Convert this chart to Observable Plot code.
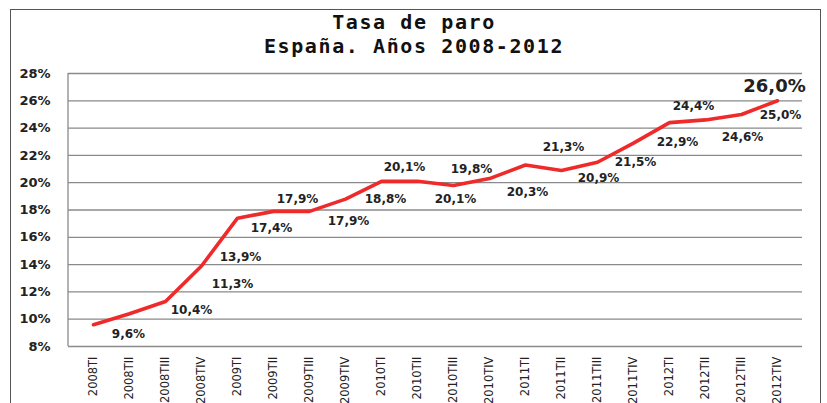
<!DOCTYPE html>
<html>
<head>
<meta charset="utf-8">
<script src="https://cdn.jsdelivr.net/npm/d3@7"></script>
<script src="https://cdn.jsdelivr.net/npm/@observablehq/plot@0.6"></script>
<style>
  html, body { margin: 0; padding: 0; background: #fff; }
  #wrap { position: relative; width: 827px; height: 403px; overflow: hidden; }
  #frame { position: absolute; left: 10px; top: 9px; width: 811px; height: 420px;
           border: 1.5px solid #555; box-sizing: border-box; }
  #title { position: absolute; left: 0; width: 828px; top: 10px; text-align: center;
           font-family: "DejaVu Sans Mono", monospace; font-weight: bold; font-size: 20px;
           letter-spacing: 1.6px; line-height: 24px; color: #111; }
  #chart { position: absolute; left: 0; top: 0; }
</style>
</head>
<body>
<div id="wrap">
  <div id="frame"></div>
  <div id="title">Tasa de paro<br>España. Años 2008-2012</div>
  <div id="chart"></div>
</div>
<script>
const quarters = ["2008TI","2008TII","2008TIII","2008TIV","2009TI","2009TII","2009TIII","2009TIV",
  "2010TI","2010TII","2010TIII","2010TIV","2011TI","2011TII","2011TIII","2011TIV",
  "2012TI","2012TII","2012TIII","2012TIV"];
const rates = [9.6,10.4,11.3,13.9,17.4,17.9,17.9,18.8,20.1,20.1,19.8,20.3,21.3,20.9,21.5,22.9,24.4,24.6,25.0,26.0];
const yTicks = [8,10,12,14,16,18,20,22,24,26,28];

// label placement offsets (px) relative to each point, as in the original
const labelOffsets = [[35,9],[62,-4],[67,-17],[39,-9],[34,10],[24,-12],[39,10],[40,0],[23,-14],[38,18],
  [18,-16],[38,14],[38,-18],[37,8],[38,0],[44,-1],[24,-16],[37,17],[39,1],[-3,-15]];

const data = quarters.map((q, i) => ({q, v: rates[i], label: rates[i].toFixed(1).replace(".", ",") + "%"}));
const last = data.length - 1;

const labelMarks = data.map((d, i) => Plot.text([d], {
  x: "q", y: "v", text: "label",
  dx: labelOffsets[i][0], dy: labelOffsets[i][1],
  fontFamily: "DejaVu Sans, Verdana, sans-serif",
  fontWeight: "bold",
  fontSize: i === last ? 18 : 12,
  fill: "#222",
  letterSpacing: i === last ? 0 : 0.6
}));

const chart = Plot.plot({
  width: 827,
  height: 403,
  marginLeft: 68,
  marginRight: 25,
  marginTop: 73,
  marginBottom: 57,
  style: {background: "transparent", overflow: "visible"},
  x: {type: "point", domain: quarters, padding: 0.5, label: null, tickSize: 0, tickRotate: -90, tickPadding: 10},
  y: {domain: [8, 28], ticks: yTicks, tickFormat: d => d + "%", label: null, tickSize: 0, tickPadding: 18},
  marks: [
    Plot.ruleY(yTicks, {stroke: "#8a8a8a", strokeWidth: 1.3}),
    Plot.line(data, {x: "q", y: "v", stroke: "#ee2a2a", strokeWidth: 3.6, strokeLinejoin: "round"}),
    ...labelMarks
  ]
});

// style axes
chart.querySelectorAll("g[aria-label='y-axis tick label']").forEach(g => {
  g.setAttribute("font-family", "DejaVu Sans, Verdana, sans-serif");
  g.setAttribute("font-weight", "bold");
  g.setAttribute("font-size", "13");
  g.setAttribute("fill", "#222");
});
chart.querySelectorAll("g[aria-label='x-axis tick label']").forEach(g => {
  g.setAttribute("font-family", "DejaVu Sans, Tahoma, sans-serif");
  g.setAttribute("font-size", "11.5");
  g.setAttribute("fill", "#222");
});
document.getElementById("chart").appendChild(chart);

// left vertical edge of plotting area
const ns = "http://www.w3.org/2000/svg";
const ln = document.createElementNS(ns, "line");
ln.setAttribute("x1", 68); ln.setAttribute("x2", 68);
ln.setAttribute("y1", 73); ln.setAttribute("y2", 346);
ln.setAttribute("stroke", "#8a8a8a"); ln.setAttribute("stroke-width", 1.3);
chart.insertBefore(ln, chart.firstChild.nextSibling);
</script>
</body>
</html>
